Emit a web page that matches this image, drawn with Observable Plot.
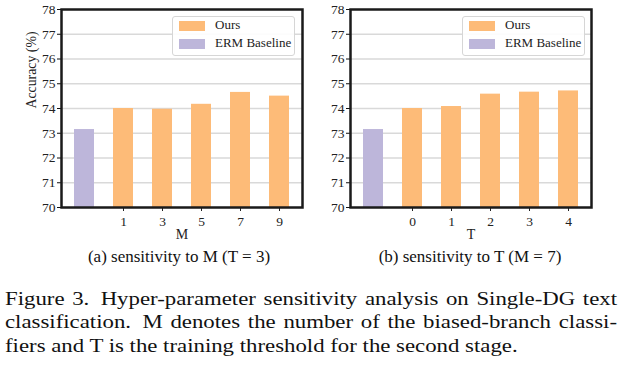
<!DOCTYPE html>
<html>
<head>
<meta charset="utf-8">
<script src="https://cdn.jsdelivr.net/npm/d3@7"></script>
<script src="https://cdn.jsdelivr.net/npm/@observablehq/plot@0.6"></script>
<style>
  html, body { margin: 0; padding: 0; background: #fff; }
  #root { position: relative; width: 625px; height: 373px; font-family: "Liberation Serif", "Times New Roman", serif; color: #111; overflow: hidden; }
  #root svg text { font-family: "Liberation Serif", "Times New Roman", serif !important; }
  .panel { position: absolute; top: 0; }
  .legendbox { position: absolute; top: 16px; width: 121px; height: 38px; border: 1px solid #d6d6d6; border-radius: 3px; background: rgba(255,255,255,0.9); box-sizing: content-box; }
  .legendrow { position: absolute; left: 6px; height: 10px; font-size: 13px; line-height: 10px; white-space: nowrap; color: #222; }
  .sw { position: absolute; left: 0; top: 0; width: 26px; height: 10px; }
  .lt { position: absolute; left: 36px; top: -1px; }
  .sub { position: absolute; top: 247px; font-size: 17px; line-height: 20px; text-align: center; width: 300px; white-space: nowrap; }
  .capline { position: absolute; left: 5px; width: 510px; font-size: 19px; line-height: 23.5px; text-align: justify; text-align-last: justify; transform: scaleX(1.2); transform-origin: 0 0; white-space: normal; }
  .capline.last { text-align-last: left; }
</style>
</head>
<body>
<div id="root"></div>
<script>
// ---- data ----
const seriesNames = ["Ours", "ERM Baseline"];
const seriesColors = ["#FDBB78", "#BDB6DA"];
const baselineValue = 73.15;
const mLabels = ["1", "3", "5", "7", "9"];
const mValues = [74.0, 73.97, 74.17, 74.65, 74.5];
const tLabels = ["0", "1", "2", "3", "4"];
const tValues = [74.0, 74.08, 74.58, 74.66, 74.71];
const yTicks = [70, 71, 72, 73, 74, 75, 76, 77, 78];
const yDomain = [70, 78];
const subCaptions = ["(a) sensitivity to M (T = 3)", "(b) sensitivity to T (M = 7)"];
const captionLines = [
  "Figure 3.\u2002Hyper-parameter sensitivity analysis on Single-DG text",
  "classification.\u2002M denotes the number of the biased-branch classi-",
  "fiers and T is the training threshold for the second stage."
];

const root = document.getElementById("root");

function panel(labels, values, xLabel, showYLabel) {
  const baseKey = "base";
  const data = [{key: baseKey, v: baselineValue, s: "ERM Baseline"}]
    .concat(labels.map((l, i) => ({key: l, v: values[i], s: "Ours"})));
  const marks = [
    Plot.ruleY(yTicks.filter(t => t > 70 && t < 78), {stroke: "#d9d9d9", strokeWidth: 1.5}),
    Plot.barY(data, {x: "key", y1: yDomain[0], y2: "v", fill: "s"}),
    Plot.axisY({ticks: yTicks, tickSize: 4, tickPadding: 2, label: null, fontSize: 13.5, stroke: "#111", fill: "#222"}),
    Plot.axisX({ticks: labels, tickSize: 4, tickPadding: 4.5, label: null, fontSize: 13.5, fill: "#222"}),
    Plot.text([xLabel], {frameAnchor: "bottom", dy: 31, fontSize: 14, fill: "#222"}),
    Plot.frame({stroke: "#1a1a1a", strokeWidth: 2.5})
  ];
  if (showYLabel) marks.push(Plot.text(["Accuracy (%)"], {frameAnchor: "left", dx: -30, rotate: -90, fontSize: 13.8, fill: "#222"}));
  return Plot.plot({
    width: 310,
    height: 242,
    marginLeft: 61,
    marginRight: 8,
    marginTop: 9,
    marginBottom: 35,
    style: {fontFamily: "Liberation Serif", fontSize: "13.5px", background: "transparent", color: "#222", overflow: "visible"},
    x: {type: "band", domain: [baseKey].concat(labels), paddingInner: 0.5, paddingOuter: 0.275, axis: null},
    y: {domain: yDomain, axis: null},
    color: {domain: seriesNames, range: seriesColors},
    marks
  });
}

function legend(left) {
  const box = document.createElement("div");
  box.className = "legendbox";
  box.style.left = left + "px";
  seriesNames.forEach((name, i) => {
    const row = document.createElement("div");
    row.className = "legendrow";
    row.style.top = (4 + i * 18) + "px";
    const sw = document.createElement("div");
    sw.className = "sw";
    sw.style.background = seriesColors[i];
    const lt = document.createElement("span");
    lt.className = "lt";
    lt.textContent = name;
    row.appendChild(sw);
    row.appendChild(lt);
    box.appendChild(row);
  });
  return box;
}

const p1 = panel(mLabels, mValues, "M", true);
p1.classList.add("panel");
p1.style.left = "0px";
root.appendChild(p1);

const p2 = panel(tLabels, tValues, "T", false);
p2.classList.add("panel");
p2.style.left = "289px";
root.appendChild(p2);

root.appendChild(legend(172));
root.appendChild(legend(462));

[179, 470].forEach((cx, i) => {
  const s = document.createElement("div");
  s.className = "sub";
  s.style.left = (cx - 150) + "px";
  s.textContent = subCaptions[i];
  root.appendChild(s);
});

captionLines.forEach((line, i) => {
  const d = document.createElement("div");
  d.className = "capline" + (i === captionLines.length - 1 ? " last" : "");
  d.style.top = (287 + i * 23.4) + "px";
  d.textContent = line;
  root.appendChild(d);
});
</script>
</body>
</html>
